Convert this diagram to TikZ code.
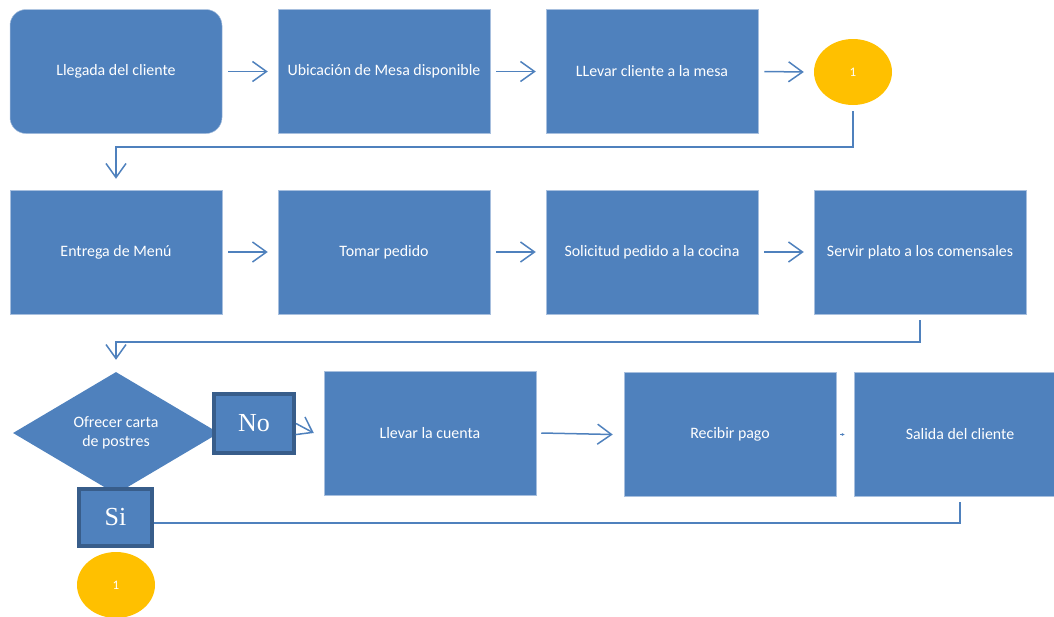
\documentclass[tikz,border=0pt]{standalone}
\usepackage{fontspec}
\setmainfont{Carlito}
\newfontfamily\serifno{Liberation Serif}
\usetikzlibrary{arrows.meta,shapes.geometric}
\definecolor{boxblue}{HTML}{4F81BD}
\definecolor{darkblue}{HTML}{385D8A}
\definecolor{gold}{HTML}{FFC000}
\definecolor{edgeblue}{HTML}{A7BFDE}
\begin{document}
\begin{tikzpicture}[x=1pt,y=-1pt,
  proc/.style={rectangle, fill=boxblue, draw=edgeblue, line width=0.5pt,
    minimum width=212pt, minimum height=124pt, inner sep=0pt, text=white,
    font=\fontsize{15.9}{19}\selectfont, align=center},
  decision/.style={diamond, fill=boxblue, draw=none, minimum width=206pt,
    minimum height=122pt, inner sep=0pt, shape aspect=1.7, text=white,
    font=\fontsize{15.9}{18.5}\selectfont, align=center},
  label box/.style={rectangle, fill=boxblue, draw=darkblue, line width=4pt,
    inner sep=0pt, text=white, font=\serifno\fontsize{26}{28}\selectfont},
  connector/.style={ellipse, fill=gold, draw=none, minimum width=78pt,
    minimum height=66pt, inner sep=0pt, text=white,
    font=\fontsize{13}{15}\selectfont},
  conn/.style={draw=boxblue, line width=1.5pt},
  arr/.style={conn, -{Straight Barb[length=14pt,width=20pt]}}]
\useasboundingbox (0,0) rectangle (1054,616);
\clip (0,0) rectangle (1054,616);
% row 1
\node[proc, rounded corners=16pt] (llegada) at (116,71.5) {Llegada del cliente};
\node[proc] (ubic) at (384,71.5) {Ubicación de Mesa disponible};
\node[proc] (llevar) at (652,71.5) {LLevar cliente a la mesa};
\node[connector] (c1) at (853,72) {1};
% row 2
\node[proc] (entrega) at (116,252) {Entrega de Menú};
\node[proc] (tomar) at (384,252) {Tomar pedido};
\node[proc] (solicitud) at (652,252) {Solicitud pedido a la cocina};
\node[proc] (servir) at (920,252) {Servir plato a los comensales};
% row 3
\node[decision] (oferta) at (116,433) {Ofrecer carta\\de postres};
\node[label box, minimum width=80pt, minimum height=59pt] (no) at (254,423.5) {No};
\node[label box, minimum width=73pt, minimum height=57pt] (si) at (115.5,517.5) {Si};
\node[proc] (cuenta) at (430,433) {Llevar la cuenta};
\node[proc] (recibir) at (730,434.5) {Recibir pago};
\node[proc] (salida) at (960,434.5) {Salida del cliente};
\node[connector] (c2) at (116,585) {1};
\coordinate (k1) at (116,147);
\coordinate (k2) at (116,342);
% connectors
\draw[arr] ([xshift=6pt]llegada.east) -- ([xshift=-10pt]ubic.west);
\draw[arr] ([xshift=6pt]ubic.east) -- ([xshift=-10pt]llevar.west);
\draw[arr] ([xshift=6pt]llevar.east) -- ([xshift=-10pt]c1.west);
\draw[arr] ([yshift=-6pt]c1.south) |- (k1) -- ([yshift=11pt]entrega.north);
\draw[arr] ([xshift=6pt]entrega.east) -- ([xshift=-10pt]tomar.west);
\draw[arr] ([xshift=6pt]tomar.east) -- ([xshift=-10pt]solicitud.west);
\draw[arr] ([xshift=6pt]solicitud.east) -- ([xshift=-10pt]servir.west);
\draw[arr] ([yshift=-6pt]servir.south) |- (k2) -- ([yshift=12pt]oferta.north);
\draw[arr] (no.east) -- ([xshift=-10pt]cuenta.west);
\draw[arr] ([xshift=5pt]cuenta.east) -- ([xshift=-11pt]recibir.west);
\draw[draw=boxblue, line width=0.5pt, -{Latex[length=3pt,width=3pt]}] ([xshift=4pt]recibir.east) -- ([xshift=-9pt]salida.west);
\draw[conn] ([yshift=-5.5pt]si.east) -| ([yshift=-5pt]salida.south);
\end{tikzpicture}
\end{document}
